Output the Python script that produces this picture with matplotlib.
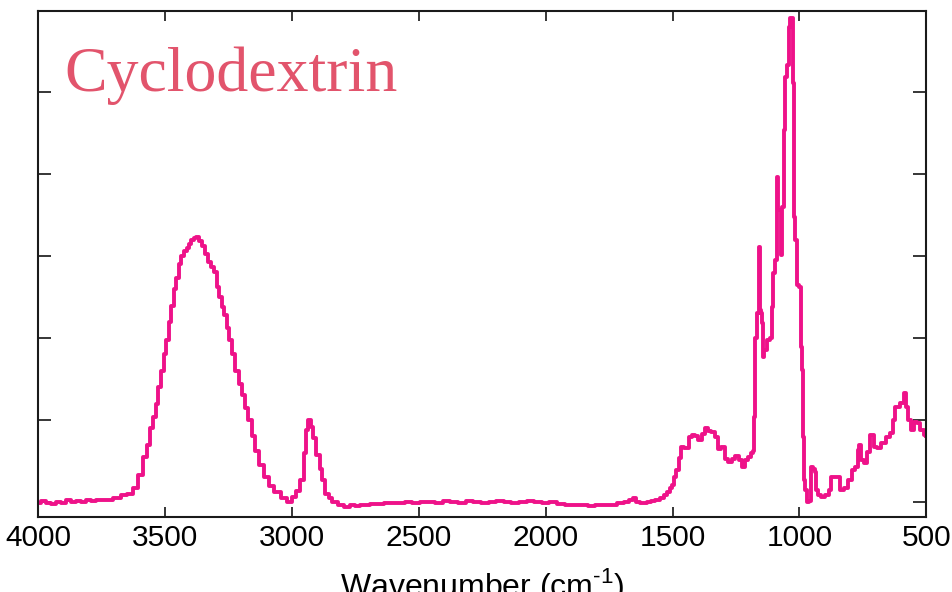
import matplotlib.pyplot as plt

# IR spectrum of cyclodextrin
wavenumber = [
    4000, 3980, 3960, 3940, 3920, 3900, 3880, 3860, 3840, 3820, 3800, 3780, 3760, 3740, 3716,
    3690, 3660, 3637, 3618, 3598, 3578, 3565, 3551, 3540, 3531, 3520, 3511, 3499, 3490, 3480,
    3470, 3460, 3450, 3440, 3432, 3420, 3410, 3401, 3390, 3380, 3373, 3360, 3350, 3336, 3322,
    3312, 3302, 3290, 3283, 3270, 3263, 3250, 3243, 3230, 3216, 3204, 3192, 3180, 3165, 3150,
    3137, 3120, 3098, 3080, 3058, 3030, 3007, 2990, 2975, 2960, 2948, 2940, 2930, 2920, 2910,
    2897, 2885, 2877, 2860, 2850, 2830, 2810, 2782, 2760, 2740, 2720, 2703, 2680, 2650, 2620,
    2601, 2570, 2540, 2510, 2480, 2450, 2420, 2390, 2360, 2330, 2300, 2270, 2240, 2210, 2180,
    2150, 2120, 2090, 2060, 2030, 2000, 1970, 1940, 1910, 1880, 1850, 1820, 1790, 1760, 1730,
    1706, 1680, 1660, 1650, 1640, 1615, 1590, 1576, 1560, 1541, 1525, 1517, 1505, 1497, 1488,
    1481, 1469, 1462, 1450, 1442, 1430, 1418, 1405, 1391, 1380, 1367, 1355, 1340, 1324, 1316,
    1300, 1288, 1273, 1260, 1245, 1233, 1221, 1210, 1198, 1185, 1178, 1176, 1172, 1165, 1160,
    1158, 1156, 1150, 1145, 1142, 1135, 1123, 1111, 1108, 1103, 1090, 1087, 1079, 1070, 1064,
    1060, 1056, 1044, 1040, 1032, 1028, 1024, 1020, 1012, 1009, 997, 993, 989, 985, 981,
    975, 965, 957, 949, 943, 938, 930, 920, 910, 890, 878, 870, 847, 831, 819,
    800, 788, 772, 768, 760, 752, 741, 729, 713, 701, 689, 670, 650, 634, 630,
    614, 595, 583, 575, 567, 555, 540, 532, 516, 504, 500,
]
absorbance = [
    -0.01, 0.01, -0.01, -0.02, 0.00, -0.01, 0.02, 0.00, 0.01, 0.00, 0.02, 0.01, 0.03, 0.02, 0.03,
    0.05, 0.08, 0.10, 0.17, 0.33, 0.55, 0.70, 0.90, 1.04, 1.20, 1.40, 1.60, 1.80, 1.98, 2.20,
    2.39, 2.60, 2.73, 2.90, 3.00, 3.06, 3.10, 3.15, 3.19, 3.22, 3.23, 3.18, 3.12, 3.02, 2.93,
    2.87, 2.80, 2.62, 2.50, 2.38, 2.28, 2.12, 1.98, 1.80, 1.60, 1.44, 1.30, 1.15, 1.00, 0.80,
    0.62, 0.45, 0.30, 0.20, 0.12, 0.05, 0.00, 0.06, 0.14, 0.27, 0.60, 0.88, 1.00, 0.92, 0.78,
    0.57, 0.40, 0.27, 0.10, 0.05, 0.00, -0.04, -0.06, -0.04, -0.05, -0.03, -0.04, -0.02, -0.02, -0.01,
    -0.01, -0.01, 0.00, -0.01, 0.00, 0.00, -0.01, 0.01, 0.00, -0.01, 0.01, 0.00, -0.01, 0.00, 0.01,
    0.00, -0.01, 0.00, 0.01, 0.00, -0.01, 0.00, -0.02, -0.03, -0.04, -0.04, -0.05, -0.04, -0.04, -0.03,
    -0.01, 0.00, 0.02, 0.05, 0.00, -0.01, 0.00, 0.01, 0.03, 0.05, 0.09, 0.12, 0.17, 0.21, 0.30,
    0.39, 0.54, 0.67, 0.66, 0.66, 0.79, 0.82, 0.80, 0.76, 0.83, 0.90, 0.87, 0.85, 0.79, 0.65,
    0.67, 0.52, 0.49, 0.52, 0.56, 0.51, 0.43, 0.51, 0.55, 0.60, 0.62, 1.04, 2.00, 2.30, 2.30,
    3.11, 2.34, 2.30, 2.18, 1.77, 1.85, 1.98, 2.00, 2.38, 2.79, 2.95, 3.96, 3.56, 3.01, 3.60,
    4.54, 5.18, 5.33, 5.79, 5.90, 5.90, 5.11, 3.48, 3.20, 2.65, 2.62, 1.89, 1.61, 0.79, 0.27,
    0.15, 0.00, 0.01, 0.43, 0.40, 0.37, 0.15, 0.08, 0.06, 0.09, 0.15, 0.30, 0.30, 0.15, 0.17,
    0.27, 0.39, 0.43, 0.63, 0.70, 0.51, 0.48, 0.61, 0.82, 0.67, 0.66, 0.72, 0.79, 0.84, 1.00,
    1.16, 1.21, 1.33, 1.16, 1.00, 0.88, 0.98, 0.96, 0.88, 0.82, 0.80,
]
x_ticks = [4000, 3500, 3000, 2500, 2000, 1500, 1000, 500]
y_ticks = [0, 1, 2, 3, 4, 5]

plt.rcParams['font.family'] = ['Liberation Sans', 'DejaVu Sans']
plt.rcParams['mathtext.fontset'] = 'custom'
plt.rcParams['mathtext.rm'] = 'Liberation Sans'

fig = plt.figure(figsize=(9.52, 5.92), dpi=100)
ax = fig.add_axes([0.040, 0.127, 0.933, 0.855])

ax.plot(wavenumber, absorbance, color='#EE1289', linewidth=2.8, drawstyle='steps-mid')

ax.set_xlim(4000, 500)
ax.set_ylim(-0.18, 5.99)
ax.set_xticks(x_ticks)
ax.set_yticks(y_ticks)
ax.set_yticklabels([])

for s in ax.spines.values():
    s.set_linewidth(1.5)
    s.set_color('#1a1a1a')
ax.tick_params(axis='x', direction='in', top=True, length=7.5, width=1.1,
               labelsize=21.5, pad=5)
ax.tick_params(axis='y', direction='in', right=True, length=9.5, width=1.1)

ax.set_xlabel(r'Wavenumber (cm$^{\mathrm{\text{-}1}}$)', fontsize=23, labelpad=10)

fig.text(0.068, 0.846, 'Cyclodextrin', fontsize=46, color='#E2546C',
         family='Liberation Serif', va='baseline')

fig.savefig('out.png', dpi=100)
